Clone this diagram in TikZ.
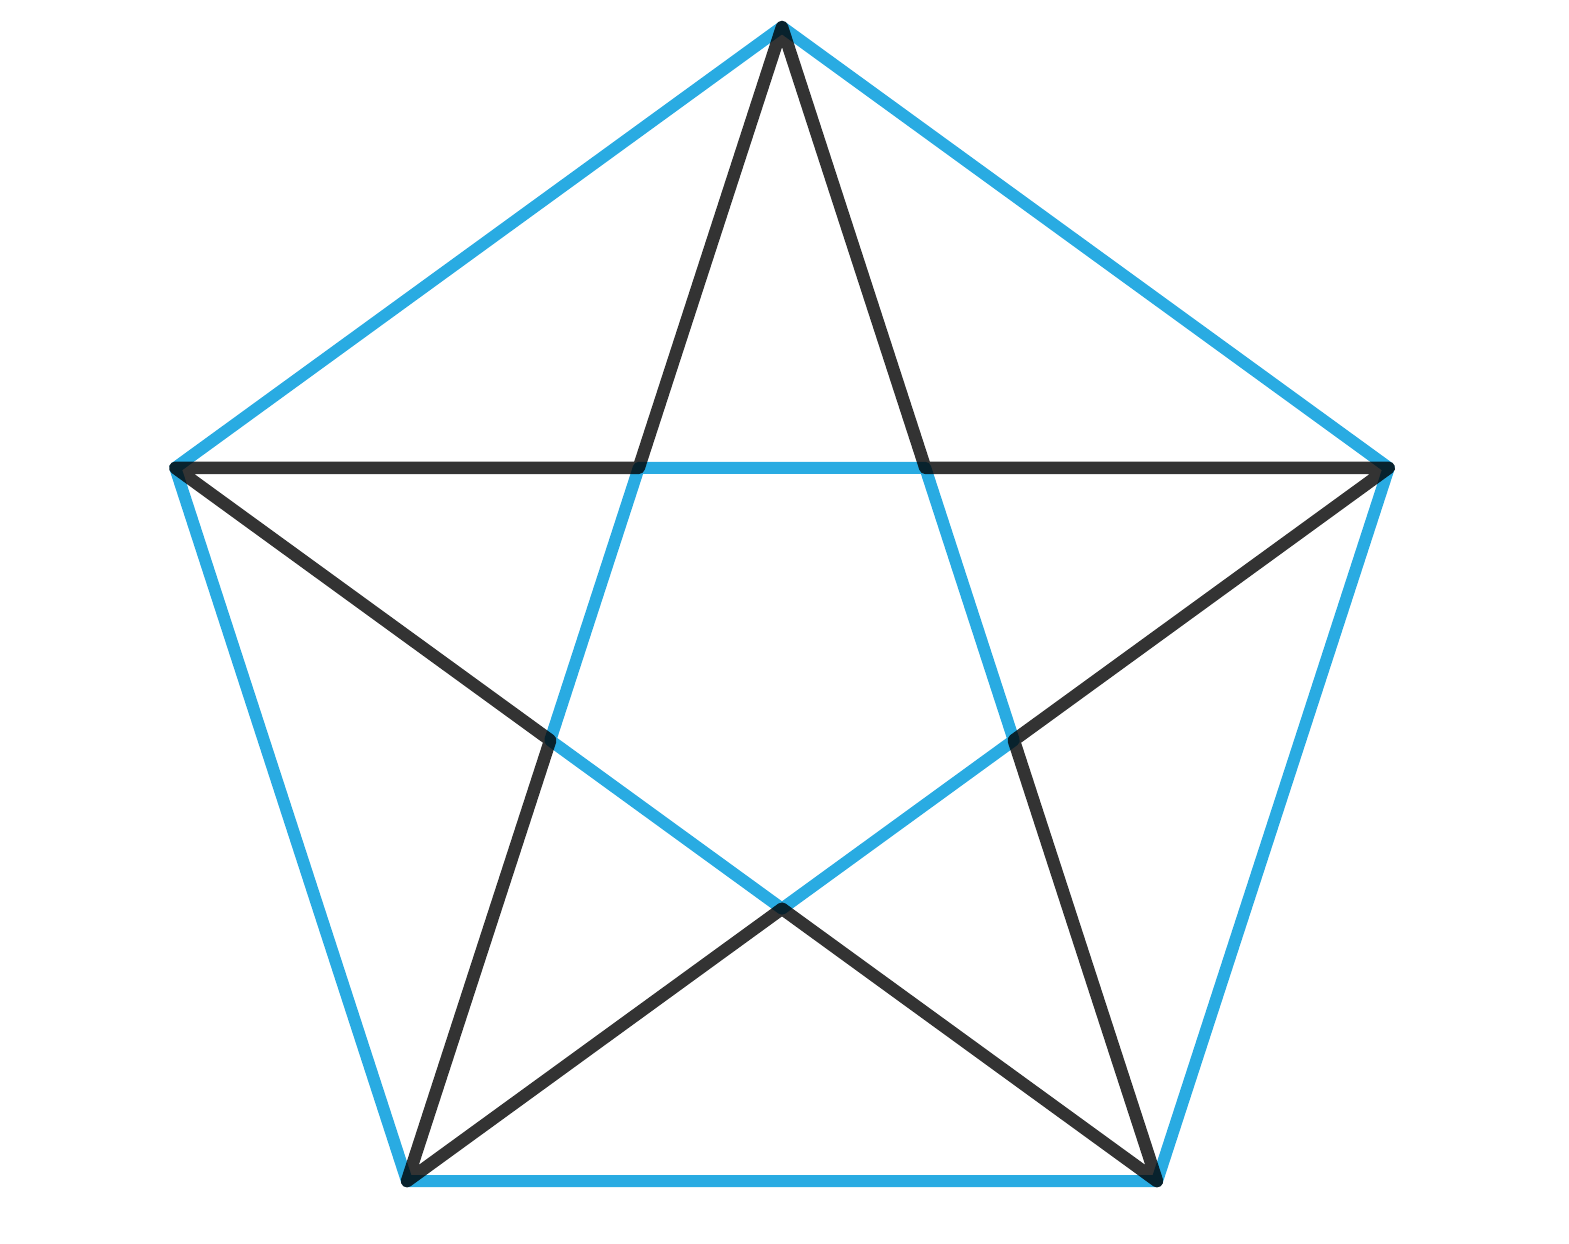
\documentclass[tikz,border=0pt]{standalone}
\usetikzlibrary{calc}
\definecolor{skyblue}{HTML}{29ABE2}
\tikzset{
  blueline/.style={draw=skyblue, line width=12pt, line join=round, line cap=round},
  blackline/.style={draw=black, draw opacity=0.8, line width=12.5pt, line join=round, line cap=round},
}
\begin{document}
\begin{tikzpicture}[x=1pt,y=1pt]
\useasboundingbox (0,0) rectangle (1569,1244);
\coordinate (O) at (782,579);
\foreach \n/\a in {T/90,L/162,BL/234,BR/306,R/18}{
  \coordinate (\n) at ($(O)+(\a:638)$);
}
\foreach \n/\a in {iTL/126,iL/198,iB/270,iR/342,iTR/54}{
  \coordinate (\n) at ($(O)+(\a:243.7)$);
}
% outer pentagon
\draw[blueline] (T) -- (L) -- (BL) -- (BR) -- (R) -- cycle;
% inner pentagon
\draw[blueline] (iTL) -- (iL) -- (iB) -- (iR) -- (iTR) -- cycle;
% star outline
\draw[blackline] (T) -- (iTL) -- (L) -- (iL) -- (BL) -- (iB) -- (BR) -- (iR) -- (R) -- (iTR) -- cycle;
\end{tikzpicture}
\end{document}
